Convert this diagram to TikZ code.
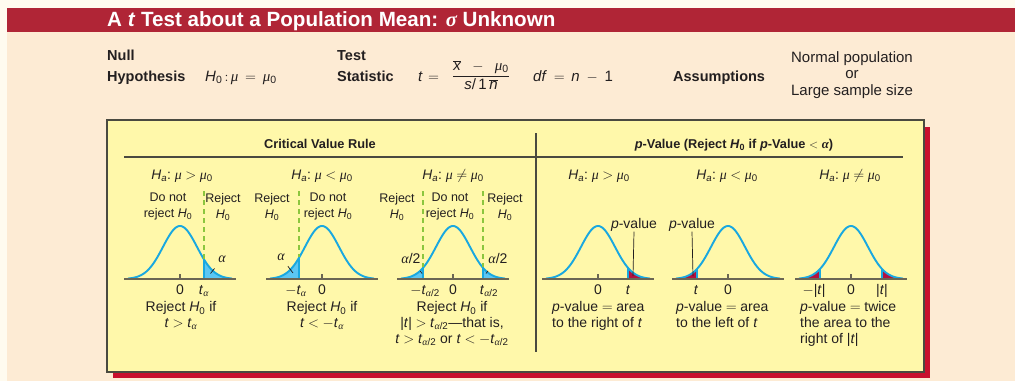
\documentclass[tikz,border=0pt]{standalone}
\usepackage{fontspec}
\setmainfont{Liberation Sans}
\newfontfamily\grkfont{Liberation Serif}
\definecolor{creambg}{HTML}{FFFBEF}
\definecolor{beigebg}{HTML}{FDEBD4}
\definecolor{bandred}{HTML}{B02536}
\definecolor{boxyellow}{HTML}{FFF8AA}
\definecolor{shadowred}{HTML}{C8102E}
\definecolor{boxline}{HTML}{4A4A40}
\definecolor{ink}{HTML}{231F20}
\definecolor{curveblue}{HTML}{19A8E0}
\definecolor{tailblue}{HTML}{5CC6F2}
\definecolor{tailred}{HTML}{B3123F}
\definecolor{dashgreen}{HTML}{8CC63F}
\definecolor{axisgray}{HTML}{6B6654}
\newcommand\gmu{{\grkfont\itshape μ}}
\newcommand\gal{{\grkfont\itshape α}}
\newcommand\gsig{{\grkfont\itshape σ}}
\newcommand\mysub[1]{\textsubscript{#1}}
\newcommand\myHz{\textit{H}\mysub{0}}
\newcommand\mymuz{\gmu\mysub{0}}
\newcommand\myHa{\textit{H}\mysub{\textit{a}}:}
\newcommand\myta{\textit{t}\mysub{\gal}}
\newcommand\mytah{\textit{t}\mysub{\gal/2}}
\newcommand\myrel[2][0.26em]{\hspace{#1}$#2$\hspace{#1}}
\newcommand\bellcurve[1]{\draw[curve] plot[domain=-52:52,samples=90] ({#1+\x},{279-53*exp(-(\x*\x)/578)});}
\newcommand\righttail[3]{%
  \fill[#3] plot[domain=#2:52,samples=30] ({#1+\x},{279-53*exp(-(\x*\x)/578)}) -- (#1+52,279) -- (#1+#2,279) -- cycle;
  \draw[edge] (#1+#2,279) -- (#1+#2,{279-53*exp(-((#2)*(#2))/578)});}
\newcommand\lefttail[3]{%
  \fill[#3] plot[domain=-52:-#2,samples=30] ({#1+\x},{279-53*exp(-(\x*\x)/578)}) -- (#1-#2,279) -- (#1-52,279) -- cycle;
  \draw[edge] (#1-#2,279) -- (#1-#2,{279-53*exp(-((#2)*(#2))/578)});}
\newcommand\baseaxis[1]{\draw[axisline] (#1-56,279) -- (#1+56,279); \draw[tickline] (#1,279) -- (#1,273.5);}
\begin{document}
\begin{tikzpicture}[x=1pt,y=-1pt,
  every node/.style={inner sep=0pt,text=ink},
  ttl/.style={font=\fontsize{20.6}{23}\selectfont\bfseries,text=white},
  hdr/.style={font=\fontsize{14.5}{17}\selectfont\bfseries},
  hmath/.style={font=\fontsize{15}{18}\selectfont},
  assume/.style={font=\fontsize{15}{16.7}\selectfont,align=center},
  sect/.style={font=\fontsize{12.8}{15}\selectfont\bfseries},
  hyp/.style={font=\fontsize{13.8}{16}\selectfont},
  region/.style={font=\fontsize{12.5}{15.8}\selectfont,align=center},
  axl/.style={font=\fontsize{14}{16}\selectfont},
  botc/.style={font=\fontsize{14}{15.8}\selectfont,align=center},
  botl/.style={font=\fontsize{14}{15.8}\selectfont,align=left},
  small/.style={font=\fontsize{14}{16}\selectfont},
  curve/.style={draw=curveblue,line width=1.9pt},
  edge/.style={draw=curveblue,line width=1.2pt},
  axisline/.style={draw=axisgray,line width=1.6pt},
  tickline/.style={draw=axisgray,line width=1.1pt},
  crit/.style={draw=dashgreen,line width=1.3pt,dash pattern=on 5pt off 4pt},
  pointer/.style={draw=ink,line width=0.7pt},
  rule/.style={draw=boxline,line width=1.1pt}]
\useasboundingbox (0,0) rectangle (1015,381);
\fill[creambg] (0,0) rectangle (1015,381);
\fill[beigebg] (7,32) rectangle (1015,381);
\fill[bandred] (7,8) rectangle (1015,32);
\node[ttl,anchor=base west] (title) at (107,26.5) {A \textit{t} Test about a Population Mean: \gsig\ Unknown};
% header row
\node[hdr,anchor=base west] (null) at (107,60) {Null};
\node[hdr,anchor=base west] (hypo) at (107,81) {Hypothesis};
\node[hmath,anchor=base west] (h0eq) at (205,81) {\myHz\myrel[0.15em]{:}\gmu\myrel[0.45em]{=}\mymuz};
\node[hdr,anchor=base west] (test) at (337,60) {Test};
\node[hdr,anchor=base west] (stat) at (337,81) {Statistic};
\node[hmath,anchor=base west] (teq) at (418,81) {\textit{t}\myrel[0.35em]{=}};
\node[hmath] (frac) at (481,75) {$\displaystyle\frac{\overline{\hbox{\textit{x}}}\;\;-\;\;\hbox{\mymuz}}{\hbox{\textit{s}/\,1\,}\overline{\hbox{\textit{n}}}}$};
\node[hmath,anchor=base west] (dfeq) at (533,81) {\textit{df}\myrel[0.45em]{=}\textit{n}\myrel[0.45em]{-}1};
\node[hdr,anchor=base west] (assm) at (673,81) {Assumptions};
\node[assume,anchor=north] (assmtxt) at (852,51) {Normal population\\or\\Large sample size};
% box
\fill[shadowred] (113,127) rectangle (930,378);
\filldraw[fill=boxyellow,draw=boxline,line width=1.2pt] (107,120) rectangle (924,372);
\node[sect,anchor=base] (cvr) at (320,148.5) {Critical Value Rule};
\node[sect,anchor=base] (pvr) at (734,148.5) {\textit{p}-Value (Reject \textit{H}\mysub{0} if \textit{p}-Value $<$ \gal)};
\draw[rule] (124,157) -- (903,157);
\draw[rule] (536,133) -- (536,352);
% hypotheses
\node[hyp,anchor=base] (ha1) at (182,179) {\myHa\ \gmu\myrel{>}\mymuz};
\node[hyp,anchor=base] (ha2) at (322,179) {\myHa\ \gmu\myrel{<}\mymuz};
\node[hyp,anchor=base] (ha3) at (453,179) {\myHa\ \gmu\myrel{\neq}\mymuz};
\node[hyp,anchor=base] (ha4) at (599,179) {\myHa\ \gmu\myrel{>}\mymuz};
\node[hyp,anchor=base] (ha5) at (727,179) {\myHa\ \gmu\myrel{<}\mymuz};
\node[hyp,anchor=base] (ha6) at (850,179) {\myHa\ \gmu\myrel{\neq}\mymuz};
% region labels
\node[region,anchor=north] (r1a) at (168,193) {Do not\\reject \myHz};
\node[region,anchor=north] (r1b) at (223,193) {Reject\\\myHz};
\node[region,anchor=north] (r2a) at (272,193) {Reject\\\myHz};
\node[region,anchor=north] (r2b) at (328,193) {Do not\\reject \myHz};
\node[region,anchor=north] (r3a) at (397,193) {Reject\\\myHz};
\node[region,anchor=north] (r3b) at (450,193) {Do not\\reject \myHz};
\node[region,anchor=north] (r3c) at (505,193) {Reject\\\myHz};
% chart 1
\righttail{180}{24}{tailblue}
\bellcurve{180}
\baseaxis{180}
\coordinate (c1top) at (204,191);
\coordinate (c1bot) at (204,259);
\draw[crit] (c1top) -- (c1bot);
% chart 2
\lefttail{322}{23}{tailblue}
\bellcurve{322}
\baseaxis{322}
\coordinate (c2top) at (299,191);
\coordinate (c2bot) at (299,257);
\draw[crit] (c2top) -- (c2bot);
% chart 3
\lefttail{453}{30}{tailblue}
\righttail{453}{30}{tailblue}
\bellcurve{453}
\baseaxis{453}
\coordinate (c3top) at (423,191);
\coordinate (c3bot) at (423,267);
\coordinate (c3topr) at (483,191);
\coordinate (c3botr) at (483,267);
\draw[crit] (c3top) -- (c3bot);
\draw[crit] (c3topr) -- (c3botr);
% chart 4
\righttail{598}{30}{tailred}
\bellcurve{598}
\baseaxis{598}
% chart 5
\lefttail{728}{31}{tailred}
\bellcurve{728}
\baseaxis{728}
% chart 6
\lefttail{851}{31}{tailred}
\righttail{851}{31}{tailred}
\bellcurve{851}
\baseaxis{851}
% alpha annotations
\node[small] (al1) at (222,259) {\gal};
\coordinate (al1e) at (210.5,273.5);
\draw[pointer,shorten <=7.5pt] (al1) -- (al1e);
\node[small] (al2) at (281,257) {\gal};
\coordinate (al2e) at (293,273);
\draw[pointer,shorten <=7pt] (al2) -- (al2e);
\node[small] (al3) at (411,258) {\gal/2};
\coordinate (al3e) at (422,273.5);
\draw[pointer,shorten <=9.5pt] (al3) -- (al3e);
\node[small] (al4) at (498,258) {\gal/2};
\coordinate (al4e) at (486,273.5);
\draw[pointer,shorten <=9.5pt] (al4) -- (al4e);
\node[small] (pv1) at (634,225) {\textit{p}-value};
\coordinate (pv1e) at (633,276);
\draw[pointer] (pv1.south) -- (pv1e);
\node[small] (pv2) at (692,225) {\textit{p}-value};
\coordinate (pv2e) at (693,276);
\draw[pointer] (pv2.south) -- (pv2e);
% axis labels
\node[axl,anchor=base] (z1) at (180,294) {0};
\node[axl,anchor=base] (t1) at (204,294) {\myta};
\node[axl,anchor=base] (t2) at (296,294) {$-$\myta};
\node[axl,anchor=base] (z2) at (322,294) {0};
\node[axl,anchor=base] (t3) at (425,294) {$-$\mytah};
\node[axl,anchor=base] (z3) at (453,294) {0};
\node[axl,anchor=base] (t3r) at (489,294) {\mytah};
\node[axl,anchor=base] (z4) at (598,294) {0};
\node[axl,anchor=base] (t4) at (628,294) {\textit{t}};
\node[axl,anchor=base] (t5) at (696,294) {\textit{t}};
\node[axl,anchor=base] (z5) at (728,294) {0};
\node[axl,anchor=base] (t6) at (814,294) {$-$|\textit{t}|};
\node[axl,anchor=base] (z6) at (851,294) {0};
\node[axl,anchor=base] (t6r) at (882,294) {|\textit{t}|};
% bottom labels
\node[botc,anchor=north] (b1) at (181,301.5) {Reject \myHz\ if\\\textit{t}\myrel{>}\myta};
\node[botc,anchor=north] (b2) at (322,301.5) {Reject \myHz\ if\\\textit{t}\myrel{<}$-$\myta};
\node[botc,anchor=north] (b3) at (452,301.5) {Reject \myHz\ if\\|\textit{t}|\myrel{>}\mytah---that is,\\\textit{t}\myrel{>}\mytah\ or \textit{t}\myrel{<}$-$\mytah};
\node[botl,anchor=north west] (b4) at (552,301.5) {\textit{p}-value\myrel{=}area\\to the right of \textit{t}};
\node[botl,anchor=north west] (b5) at (676,301.5) {\textit{p}-value\myrel{=}area\\to the left of \textit{t}};
\node[botl,anchor=north west] (b6) at (800,301.5) {\textit{p}-value\myrel{=}twice\\the area to the\\right of |\textit{t}|};
\end{tikzpicture}
\end{document}
